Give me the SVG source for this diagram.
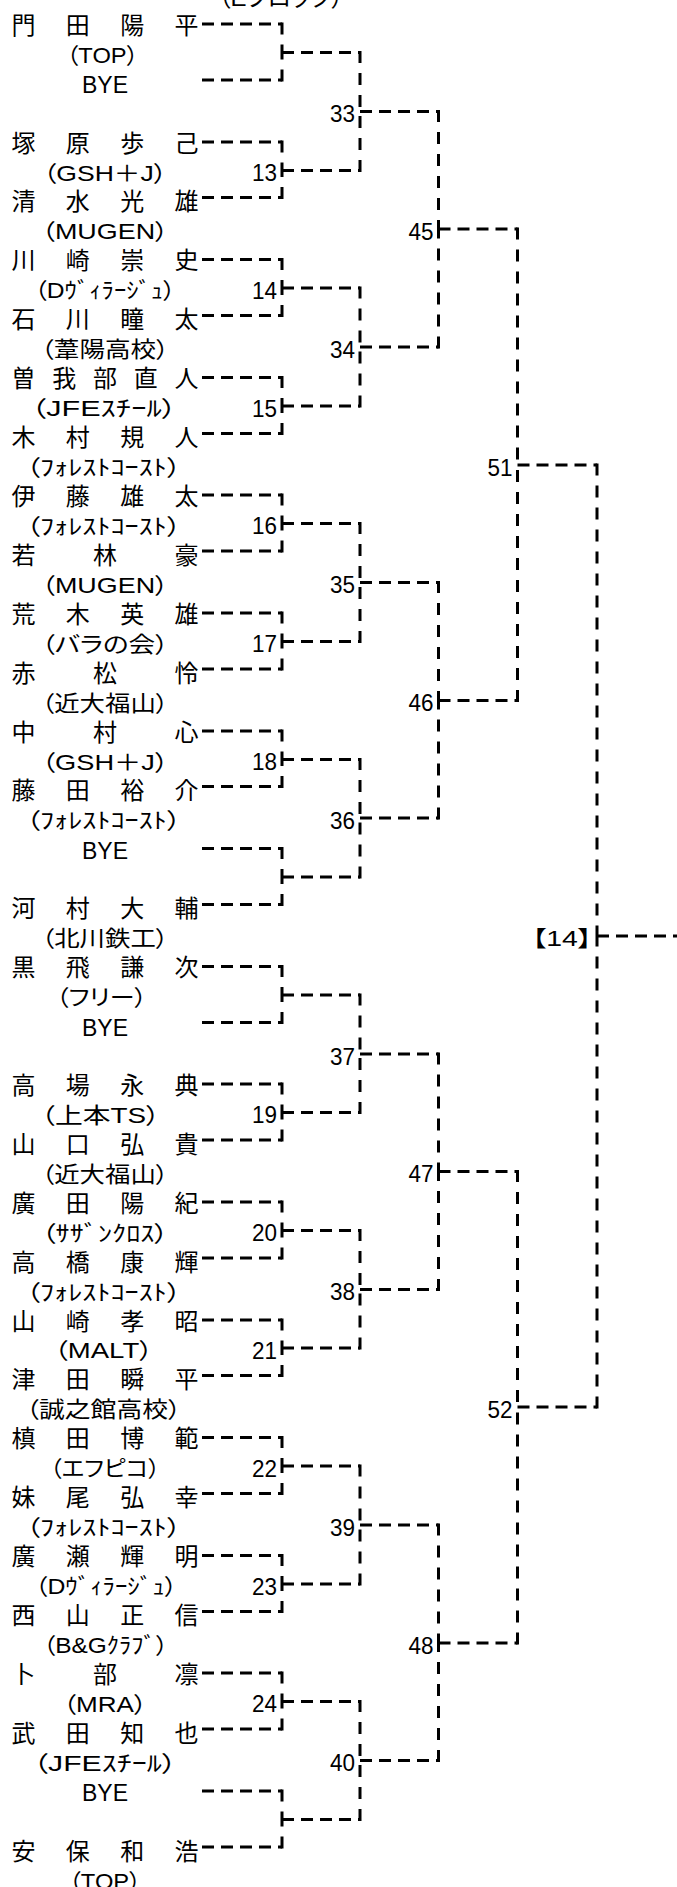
<svg xmlns="http://www.w3.org/2000/svg" width="677" height="1887" viewBox="0 0 677 1887">
<style>
.nm{font-family:"Liberation Sans","Noto Sans CJK JP",sans-serif;font-size:24px;text-anchor:middle;fill:#000}
.af{font-family:"Liberation Sans","Noto Sans CJK JP",sans-serif;font-size:22px;text-anchor:middle;font-feature-settings:"palt";fill:#000}
.bye{font-family:"Liberation Sans","Noto Sans CJK JP",sans-serif;font-size:23px;text-anchor:middle;fill:#000}
.num{font-family:"Liberation Sans","Noto Sans CJK JP",sans-serif;font-size:23px;text-anchor:end;fill:#000}
.ttl{font-family:"Liberation Sans","Noto Sans CJK JP",sans-serif;font-size:24px;text-anchor:middle;font-feature-settings:"palt";fill:#000}
.h{fill:none;stroke:#000;stroke-width:3;stroke-dasharray:12 7}
.v{fill:none;stroke:#000;stroke-width:3;stroke-dasharray:12 10}
</style>
<rect width="677" height="1887" fill="#fff"/>
<text class="ttl" x="281" y="6">（Eブロック）</text>
<g id="connectors">
<path class="h" d="M202 24H282M202 80H282M202 142H282M202 197.5H282M202 259.5H282M202 315.5H282M202 377.5H282M202 433.5H282M202 495H282M202 551H282M202 613H282M202 669H282M202 731H282M202 786.5H282M202 848.5H282M202 904.5H282M202 966.5H282M202 1022.5H282M202 1084H282M202 1140H282M202 1202H282M202 1258H282M202 1320H282M202 1375.5H282M202 1437.5H282M202 1493.5H282M202 1555.5H282M202 1611.5H282M202 1673H282M202 1729H282M202 1791H282M202 1847H282"/>
<path class="h" d="M282 52.5H360M282 170.5H360M282 288H360M282 406H360M282 523.5H360M282 641.5H360M282 759.5H360M282 877H360M282 995H360M282 1112.5H360M282 1230.5H360M282 1348H360M282 1466H360M282 1584H360M282 1701.5H360M282 1819.5H360"/>
<path class="h" d="M360 111.5H438.5M360 347H438.5M360 582.5H438.5M360 818H438.5M360 1054H438.5M360 1289.5H438.5M360 1525H438.5M360 1760.5H438.5"/>
<path class="h" d="M438.5 229H517.5M438.5 700.5H517.5M438.5 1171.5H517.5M438.5 1643H517.5"/>
<path class="h" d="M517.5 465H597M517.5 1407H597M597 936H677"/>
<path class="v" d="M282 22.5V52.5M282 81.5V52.5M282 140.5V170.5M282 199V170.5M282 258V288M282 317V288M282 376V406M282 435V406M282 493.5V523.5M282 552.5V523.5M282 611.5V641.5M282 670.5V641.5M282 729.5V759.5M282 788V759.5M282 847V877M282 906V877M282 965V995M282 1024V995M282 1082.5V1112.5M282 1141.5V1112.5M282 1200.5V1230.5M282 1259.5V1230.5M282 1318.5V1348M282 1377V1348M282 1436V1466M282 1495V1466M282 1554V1584M282 1613V1584M282 1671.5V1701.5M282 1730.5V1701.5M282 1789.5V1819.5M282 1848.5V1819.5"/>
<path class="v" d="M360 51V111.5M360 172V111.5M360 286.5V347M360 407.5V347M360 522V582.5M360 643V582.5M360 758V818M360 878.5V818M360 993.5V1054M360 1114V1054M360 1229V1289.5M360 1349.5V1289.5M360 1464.5V1525M360 1585.5V1525M360 1700V1760.5M360 1821V1760.5"/>
<path class="v" d="M438.5 110V229M438.5 348.5V229M438.5 581V700.5M438.5 819.5V700.5M438.5 1052.5V1171.5M438.5 1291V1171.5M438.5 1523.5V1643M438.5 1762V1643"/>
<path class="v" d="M517.5 227.5V465M517.5 702V465M517.5 1170V1407M517.5 1644.5V1407"/>
<path class="v" d="M597 463.5V936M597 1408.5V936"/>
</g>
<g id="p01"><text class="nm" x="23.5 77.8 132.2 186.5" y="33.5">門田陽平</text><text class="af" x="102.5" y="62.5" textLength="72" lengthAdjust="spacingAndGlyphs">（TOP）</text></g>
<g id="bye1"><text class="bye" x="105" y="93">BYE</text></g>
<g id="p02"><text class="nm" x="23.5 77.8 132.2 186.5" y="151.5">塚原歩己</text><text class="af" x="105" y="180.5" textLength="124" lengthAdjust="spacingAndGlyphs">（GSH＋J）</text></g>
<g id="p03"><text class="nm" x="23.5 77.8 132.2 186.5" y="210">清水光雄</text><text class="af" x="105" y="239" textLength="127" lengthAdjust="spacingAndGlyphs">（MUGEN）</text></g>
<g id="p04"><text class="nm" x="23.5 77.8 132.2 186.5" y="269">川崎崇史</text><text class="af" x="105" y="298" textLength="141" lengthAdjust="spacingAndGlyphs">（Dｳﾞｨﾗｰｼﾞｭ）</text></g>
<g id="p05"><text class="nm" x="23.5 77.8 132.2 186.5" y="328">石川瞳太</text><text class="af" x="105" y="357" textLength="128" lengthAdjust="spacingAndGlyphs">（葦陽高校）</text></g>
<g id="p06"><text class="nm" x="23.5 64.25 105 145.75 186.5" y="387">曽我部直人</text><text class="af" x="104" y="416" textLength="146" lengthAdjust="spacingAndGlyphs">（JFEｽﾁｰﾙ）</text></g>
<g id="p07"><text class="nm" x="23.5 77.8 132.2 186.5" y="446">木村規人</text><text class="af" x="103.5" y="475" textLength="155" lengthAdjust="spacingAndGlyphs">（ﾌｫﾚｽﾄｺｰｽﾄ）</text></g>
<g id="p08"><text class="nm" x="23.5 77.8 132.2 186.5" y="504.5">伊藤雄太</text><text class="af" x="103.5" y="533.5" textLength="155" lengthAdjust="spacingAndGlyphs">（ﾌｫﾚｽﾄｺｰｽﾄ）</text></g>
<g id="p09"><text class="nm" x="23.5 105 186.5" y="563.5">若林豪</text><text class="af" x="105" y="592.5" textLength="127" lengthAdjust="spacingAndGlyphs">（MUGEN）</text></g>
<g id="p10"><text class="nm" x="23.5 77.8 132.2 186.5" y="622.5">荒木英雄</text><text class="af" x="105" y="651.5" textLength="127" lengthAdjust="spacingAndGlyphs">（バラの会）</text></g>
<g id="p11"><text class="nm" x="23.5 105 186.5" y="681.5">赤松怜</text><text class="af" x="105" y="710.5" textLength="127" lengthAdjust="spacingAndGlyphs">（近大福山）</text></g>
<g id="p12"><text class="nm" x="23.5 105 186.5" y="740.5">中村心</text><text class="af" x="105" y="769.5" textLength="127" lengthAdjust="spacingAndGlyphs">（GSH＋J）</text></g>
<g id="p13"><text class="nm" x="23.5 77.8 132.2 186.5" y="799">藤田裕介</text><text class="af" x="103.5" y="828" textLength="155" lengthAdjust="spacingAndGlyphs">（ﾌｫﾚｽﾄｺｰｽﾄ）</text></g>
<g id="bye2"><text class="bye" x="105" y="858.5">BYE</text></g>
<g id="p14"><text class="nm" x="23.5 77.8 132.2 186.5" y="917">河村大輔</text><text class="af" x="105" y="946" textLength="127" lengthAdjust="spacingAndGlyphs">（北川鉄工）</text></g>
<g id="p15"><text class="nm" x="23.5 77.8 132.2 186.5" y="976">黒飛謙次</text><text class="af" x="101.5" y="1005" textLength="91" lengthAdjust="spacingAndGlyphs">（フリー）</text></g>
<g id="bye3"><text class="bye" x="105" y="1035.5">BYE</text></g>
<g id="p16"><text class="nm" x="23.5 77.8 132.2 186.5" y="1093.5">高場永典</text><text class="af" x="100.5" y="1122.5" textLength="119" lengthAdjust="spacingAndGlyphs">（上本TS）</text></g>
<g id="p17"><text class="nm" x="23.5 77.8 132.2 186.5" y="1152.5">山口弘貴</text><text class="af" x="105" y="1181.5" textLength="127" lengthAdjust="spacingAndGlyphs">（近大福山）</text></g>
<g id="p18"><text class="nm" x="23.5 77.8 132.2 186.5" y="1211.5">廣田陽紀</text><text class="af" x="105" y="1240.5" textLength="127" lengthAdjust="spacingAndGlyphs">（ｻｻﾞﾝｸﾛｽ）</text></g>
<g id="p19"><text class="nm" x="23.5 77.8 132.2 186.5" y="1270.5">高橋康輝</text><text class="af" x="103.5" y="1299.5" textLength="155" lengthAdjust="spacingAndGlyphs">（ﾌｫﾚｽﾄｺｰｽﾄ）</text></g>
<g id="p20"><text class="nm" x="23.5 77.8 132.2 186.5" y="1329.5">山崎孝昭</text><text class="af" x="103.5" y="1358" textLength="99" lengthAdjust="spacingAndGlyphs">（MALT）</text></g>
<g id="p21"><text class="nm" x="23.5 77.8 132.2 186.5" y="1388">津田瞬平</text><text class="af" x="103.5" y="1417" textLength="155" lengthAdjust="spacingAndGlyphs">（誠之館高校）</text></g>
<g id="p22"><text class="nm" x="23.5 77.8 132.2 186.5" y="1447">槙田博範</text><text class="af" x="105" y="1476" textLength="110" lengthAdjust="spacingAndGlyphs">（エフピコ）</text></g>
<g id="p23"><text class="nm" x="23.5 77.8 132.2 186.5" y="1506">妹尾弘幸</text><text class="af" x="103.5" y="1535" textLength="155" lengthAdjust="spacingAndGlyphs">（ﾌｫﾚｽﾄｺｰｽﾄ）</text></g>
<g id="p24"><text class="nm" x="23.5 77.8 132.2 186.5" y="1565">廣瀬輝明</text><text class="af" x="106" y="1594" textLength="142" lengthAdjust="spacingAndGlyphs">（Dｳﾞｨﾗｰｼﾞｭ）</text></g>
<g id="p25"><text class="nm" x="23.5 77.8 132.2 186.5" y="1624">西山正信</text><text class="af" x="105.5" y="1653" textLength="125" lengthAdjust="spacingAndGlyphs">（B&amp;Gｸﾗﾌﾞ）</text></g>
<g id="p26"><text class="nm" x="23.5 105 186.5" y="1682.5">卜部凛</text><text class="af" x="105" y="1711.5" textLength="84" lengthAdjust="spacingAndGlyphs">（MRA）</text></g>
<g id="p27"><text class="nm" x="23.5 77.8 132.2 186.5" y="1741.5">武田知也</text><text class="af" x="105" y="1770.5" textLength="144" lengthAdjust="spacingAndGlyphs">（JFEｽﾁｰﾙ）</text></g>
<g id="bye4"><text class="bye" x="105" y="1801">BYE</text></g>
<g id="p28"><text class="nm" x="23.5 77.8 132.2 186.5" y="1859.5">安保和浩</text><text class="af" x="105" y="1888.5" textLength="72" lengthAdjust="spacingAndGlyphs">（TOP）</text></g>
<g id="m13"><text class="num" x="277" y="181" textLength="25" lengthAdjust="spacingAndGlyphs">13</text></g>
<g id="m14"><text class="num" x="277" y="298.5" textLength="25" lengthAdjust="spacingAndGlyphs">14</text></g>
<g id="m15"><text class="num" x="277" y="416.5" textLength="25" lengthAdjust="spacingAndGlyphs">15</text></g>
<g id="m16"><text class="num" x="277" y="534" textLength="25" lengthAdjust="spacingAndGlyphs">16</text></g>
<g id="m17"><text class="num" x="277" y="652" textLength="25" lengthAdjust="spacingAndGlyphs">17</text></g>
<g id="m18"><text class="num" x="277" y="770" textLength="25" lengthAdjust="spacingAndGlyphs">18</text></g>
<g id="m19"><text class="num" x="277" y="1123" textLength="25" lengthAdjust="spacingAndGlyphs">19</text></g>
<g id="m20"><text class="num" x="277" y="1241" textLength="25" lengthAdjust="spacingAndGlyphs">20</text></g>
<g id="m21"><text class="num" x="277" y="1358.5" textLength="25" lengthAdjust="spacingAndGlyphs">21</text></g>
<g id="m22"><text class="num" x="277" y="1476.5" textLength="25" lengthAdjust="spacingAndGlyphs">22</text></g>
<g id="m23"><text class="num" x="277" y="1594.5" textLength="25" lengthAdjust="spacingAndGlyphs">23</text></g>
<g id="m24"><text class="num" x="277" y="1712" textLength="25" lengthAdjust="spacingAndGlyphs">24</text></g>
<g id="m33"><text class="num" x="355" y="122" textLength="25" lengthAdjust="spacingAndGlyphs">33</text></g>
<g id="m34"><text class="num" x="355" y="357.5" textLength="25" lengthAdjust="spacingAndGlyphs">34</text></g>
<g id="m35"><text class="num" x="355" y="593" textLength="25" lengthAdjust="spacingAndGlyphs">35</text></g>
<g id="m36"><text class="num" x="355" y="828.5" textLength="25" lengthAdjust="spacingAndGlyphs">36</text></g>
<g id="m37"><text class="num" x="355" y="1064.5" textLength="25" lengthAdjust="spacingAndGlyphs">37</text></g>
<g id="m38"><text class="num" x="355" y="1300" textLength="25" lengthAdjust="spacingAndGlyphs">38</text></g>
<g id="m39"><text class="num" x="355" y="1535.5" textLength="25" lengthAdjust="spacingAndGlyphs">39</text></g>
<g id="m40"><text class="num" x="355" y="1771" textLength="25" lengthAdjust="spacingAndGlyphs">40</text></g>
<g id="m45"><text class="num" x="433.5" y="239.5" textLength="25" lengthAdjust="spacingAndGlyphs">45</text></g>
<g id="m46"><text class="num" x="433.5" y="711" textLength="25" lengthAdjust="spacingAndGlyphs">46</text></g>
<g id="m47"><text class="num" x="433.5" y="1182" textLength="25" lengthAdjust="spacingAndGlyphs">47</text></g>
<g id="m48"><text class="num" x="433.5" y="1653.5" textLength="25" lengthAdjust="spacingAndGlyphs">48</text></g>
<g id="m51"><text class="num" x="512.5" y="475.5" textLength="25" lengthAdjust="spacingAndGlyphs">51</text></g>
<g id="m52"><text class="num" x="512.5" y="1417.5" textLength="25" lengthAdjust="spacingAndGlyphs">52</text></g>
<g id="final"><text class="af" x="562" y="946" font-size="24" textLength="60" lengthAdjust="spacingAndGlyphs">【14】</text></g>
</svg>
